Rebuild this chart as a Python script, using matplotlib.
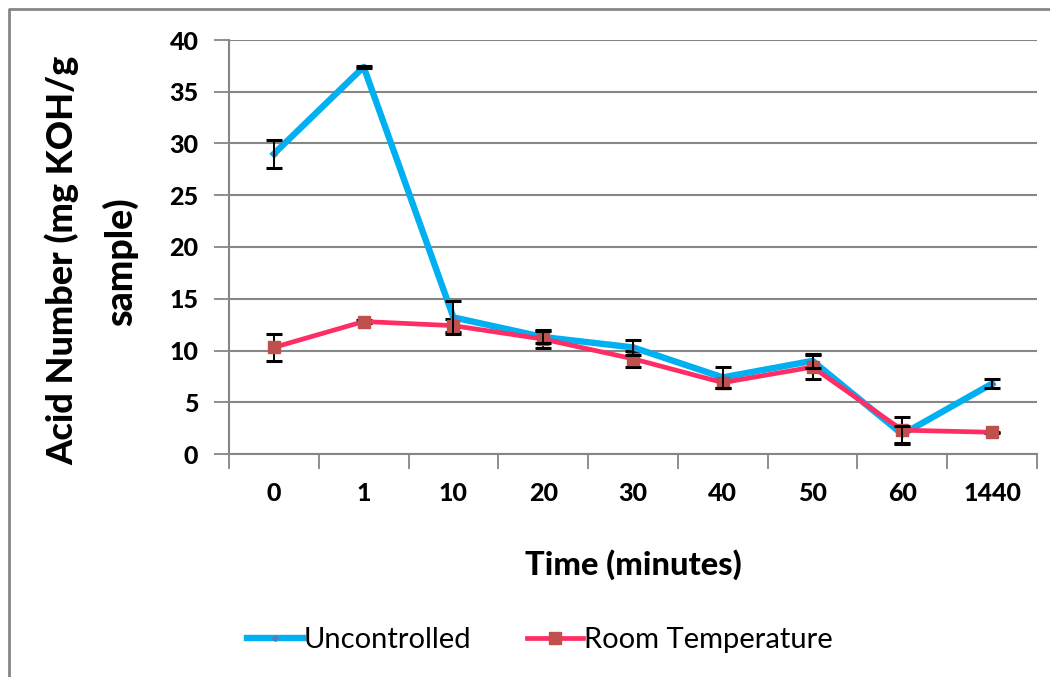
import numpy as np
import matplotlib
matplotlib.use("Agg")
import matplotlib.pyplot as plt
from matplotlib.lines import Line2D

plt.rcParams["font.family"] = ["Lato", "DejaVu Sans"]

# Sampling times (minutes) and acid number readings
times = ["0", "1", "10", "20", "30", "40", "50", "60", "1440"]
uncontrolled = [29.0, 37.4, 13.2, 11.3, 10.3, 7.4, 9.0, 1.9, 6.8]
uncontrolled_err = [1.35, 0.1, 1.6, 0.6, 0.75, 1.0, 0.7, 0.8, 0.4]
room_temp = [10.3, 12.8, 12.4, 11.1, 9.2, 6.9, 8.4, 2.3, 2.1]
room_temp_err = [1.3, 0.1, 0.6, 0.9, 0.8, 0.5, 1.2, 1.3, 0.05]

BLUE = "#00B0F0"
RED = "#FF2D64"
MARKER_RED = "#C0504D"
GRID = "#868686"
HEAVY = 900

fig = plt.figure(figsize=(10.5, 6.77), dpi=100)
ax = fig.add_axes([229 / 1050, 1 - 454 / 677, (1037 - 229) / 1050, (454 - 40) / 677])

x = np.arange(len(times))

ax.plot(x, uncontrolled, color=BLUE, lw=4.6, marker="D", ms=3,
        mfc="#4F81BD", mec="#4F81BD", zorder=3, solid_joinstyle="round")
ax.plot(x, room_temp, color=RED, lw=3.4, marker="s", ms=8,
        mfc=MARKER_RED, mec=MARKER_RED, zorder=4)
ax.errorbar(x, uncontrolled, yerr=uncontrolled_err, fmt="none", ecolor="black",
            elinewidth=1.4, capsize=5.5, capthick=2.2, zorder=5)
ax.errorbar(x, room_temp, yerr=room_temp_err, fmt="none", ecolor="black",
            elinewidth=1.4, capsize=5.5, capthick=2.2, zorder=2)

ax.set_xlim(-0.5, len(times) - 0.5)
ax.set_ylim(0, 40)
ax.set_yticks(np.arange(0, 41, 5))
ax.yaxis.grid(True, color=GRID, lw=1.5)
ax.set_axisbelow(True)

# category boundaries carry the tick marks, centres carry the labels
ax.set_xticks(np.arange(-0.5, len(times)), labels=[""] * (len(times) + 1))
ax.set_xticks(x, labels=times, minor=True)
ax.tick_params(axis="x", which="major", length=11, width=1.3, color=GRID)
ax.tick_params(axis="x", which="minor", length=0, pad=20, labelsize=18)
ax.tick_params(axis="y", length=11, width=1.3, color=GRID, labelsize=18, pad=11)
for lab in ax.get_xticklabels(minor=True) + ax.get_yticklabels():
    lab.set_fontweight(HEAVY)

for side in ("top", "right"):
    ax.spines[side].set_visible(False)
for side in ("left", "bottom"):
    ax.spines[side].set_color(GRID)
    ax.spines[side].set_linewidth(1.5)

fig.text(0.5 * (229 + 1037) / 1050, 1 - 565 / 677, "Time (minutes)",
         ha="center", va="center", fontsize=23.5, fontweight=HEAVY)
fig.text(62 / 1050, 1 - 260 / 677, "Acid Number (mg KOH/g", rotation=90,
         ha="center", va="center", fontsize=26, fontweight=HEAVY)
fig.text(120 / 1050, 1 - 262 / 677, "sample)", rotation=90,
         ha="center", va="center", fontsize=27, fontweight=HEAVY)

handles = [
    Line2D([], [], color=BLUE, lw=4.6, marker="D", ms=3, mfc="#4F81BD", mec="#4F81BD"),
    Line2D([], [], color=RED, lw=3.4, marker="s", ms=8, mfc=MARKER_RED, mec=MARKER_RED),
]
fig.legend(handles, ["Uncontrolled", "Room Temperature"], loc="center",
           bbox_to_anchor=(540 / 1050, 1 - 640 / 677), ncol=2, frameon=False,
           fontsize=21, handlelength=1.9, handletextpad=0.05, columnspacing=1.9)

# chart frame: only the top and left edges fall inside the image
fig.add_artist(Line2D([9 / 1050, 9 / 1050, 1.0], [0.0, 1 - 9 / 677, 1 - 9 / 677],
                      transform=fig.transFigure, color=GRID, lw=2))

fig.savefig("out.png", dpi=100)
